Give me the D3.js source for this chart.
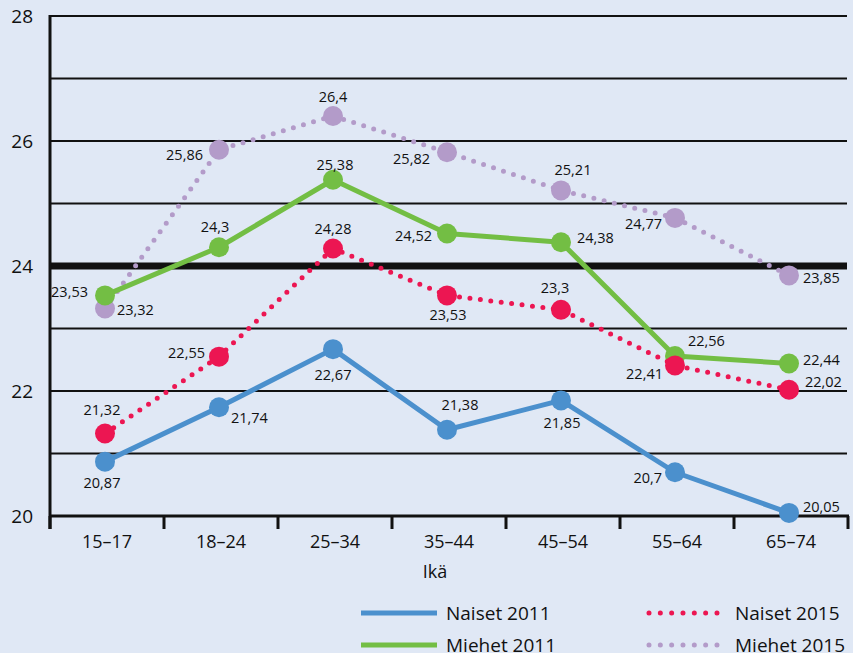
<!DOCTYPE html>
<meta charset="utf-8">
<style>
  body { margin: 0; background: #e0e8f5; }
  svg { display: block; font-family: "Open Sans", "Noto Sans", sans-serif; }
</style>
<div id="container"></div>
<script src="https://cdn.jsdelivr.net/npm/d3@7"></script>
<script>

// data
const ageGroups = ["15–17", "18–24", "25–34", "35–44", "45–54", "55–64", "65–74"];
const naiset2011 = [20.87, 21.74, 22.67, 21.38, 21.85, 20.7, 20.05];
const miehet2011 = [23.53, 24.3, 25.38, 24.52, 24.38, 22.56, 22.44];
const naiset2015 = [21.32, 22.55, 24.28, 23.53, 23.3, 22.41, 22.02];
const miehet2015 = [23.32, 25.86, 26.4, 25.82, 25.21, 24.77, 23.85];
const yTicks = [20, 22, 24, 26, 28];

// label placement per point: [dx, dy, anchor]
const labelPos = {
  n11: [[-3, 21, "middle"], [12, 11, "start"], [0, 26, "middle"], [13, -25, "middle"], [1, 23, "middle"], [-13, 6, "end"], [14, -6, "start"]],
  m11: [[-17, -3, "end"], [-4, -20, "middle"], [2, -15, "middle"], [-15, 2, "end"], [16, -4, "start"], [13, -15, "start"], [14, -4, "start"]],
  n15: [[-3, -24, "middle"], [-14, -4, "end"], [0, -20, "middle"], [1, 20, "middle"], [-6, -22, "middle"], [-12, 9, "end"], [16, -8, "start"]],
  m15: [[12, 1, "start"], [-16, 5, "end"], [0, -19, "middle"], [-17, 7, "end"], [12, -20, "middle"], [-13, 6, "end"], [14, 3, "start"]]
};

const series = [
  { key: "m15", name: "Miehet 2015", values: miehet2015, color: "#b39bc9", dotted: true },
  { key: "m11", name: "Miehet 2011", values: miehet2011, color: "#73be44", dotted: false },
  { key: "n15", name: "Naiset 2015", values: naiset2015, color: "#ec1652", dotted: true },
  { key: "n11", name: "Naiset 2011", values: naiset2011, color: "#4b90cd", dotted: false }
];

const W = 853, H = 653;
const plotL = 50, plotR = 848, plotT = 16, plotB = 516;

const svg = d3.select("#container").append("svg")
  .attr("width", W)
  .attr("height", H);

svg.append("rect").attr("width", W).attr("height", H).attr("fill", "#e0e8f5");

const x = d3.scaleBand().domain(ageGroups).range([plotL, plotR]);
const y = d3.scaleLinear().domain([20, 28]).range([plotB, plotT]);
const px = d => x(d) + x.bandwidth() / 2 - 2;

// grid lines every 1 unit
const gridVals = d3.range(21, 29);
svg.append("g").selectAll("line")
  .data(gridVals)
  .join("line")
  .attr("x1", plotL)
  .attr("x2", 847)
  .attr("y1", d => y(d))
  .attr("y2", d => y(d))
  .attr("stroke", "#111")
  .attr("stroke-width", d => d === 24 ? 7 : 2);

// y axis
svg.append("line")
  .attr("x1", plotL).attr("x2", plotL)
  .attr("y1", plotT - 1).attr("y2", plotB + 13)
  .attr("stroke", "#111").attr("stroke-width", 3);

svg.append("g").selectAll("text")
  .data(yTicks)
  .join("text")
  .attr("x", 33)
  .attr("y", d => y(d))
  .attr("dy", "0.35em")
  .attr("text-anchor", "end")
  .attr("font-size", 19)
  .attr("fill", "#111")
  .text(d => d);

// x axis
svg.append("line")
  .attr("x1", plotL - 1).attr("x2", plotR + 1)
  .attr("y1", plotB).attr("y2", plotB)
  .attr("stroke", "#111").attr("stroke-width", 3);

const bounds = ageGroups.map(d => x(d)).concat([plotR]);
svg.append("g").selectAll("line")
  .data(bounds)
  .join("line")
  .attr("x1", d => d).attr("x2", d => d)
  .attr("y1", plotB).attr("y2", plotB + 13)
  .attr("stroke", "#111").attr("stroke-width", 3);

svg.append("g").selectAll("text")
  .data(ageGroups)
  .join("text")
  .attr("x", d => x(d) + x.bandwidth() / 2)
  .attr("y", 542)
  .attr("dy", "0.35em")
  .attr("text-anchor", "middle")
  .attr("font-size", 18)
  .attr("fill", "#111")
  .text(d => d);

svg.append("text")
  .attr("x", 435).attr("y", 572).attr("dy", "0.35em")
  .attr("text-anchor", "middle")
  .attr("font-size", 18)
  .attr("fill", "#111")
  .text("Ikä");

// series
const line = d3.line().x((d, i) => px(ageGroups[i])).y(d => y(d));

series.forEach(s => {
  const g = svg.append("g");
  g.append("path")
    .datum(s.values)
    .attr("d", line)
    .attr("fill", "none")
    .attr("stroke", s.color)
    .attr("stroke-width", 5)
    .attr("stroke-linecap", "round")
    .attr("stroke-linejoin", "round")
    .attr("stroke-dasharray", s.dotted ? "0 10.5" : null);

  g.selectAll("circle")
    .data(s.values)
    .join("circle")
    .attr("cx", (d, i) => px(ageGroups[i]))
    .attr("cy", d => y(d))
    .attr("r", 10)
    .attr("fill", s.color);
});

series.forEach(s => {
  svg.append("g").selectAll("text")
    .data(s.values)
    .join("text")
    .attr("x", (d, i) => px(ageGroups[i]) + labelPos[s.key][i][0])
    .attr("y", (d, i) => y(d) + labelPos[s.key][i][1])
    .attr("dy", "0.35em")
    .attr("text-anchor", (d, i) => labelPos[s.key][i][2])
    .attr("font-size", 14.5)
    .attr("fill", "#111")
    .text(d => String(d).replace(".", ","));
});

// legend
const legendItems = [
  { s: series[3], lx: 361, ly: 613 },
  { s: series[1], lx: 361, ly: 645 },
  { s: series[2], lx: 649, ly: 613 },
  { s: series[0], lx: 649, ly: 645 }
];
const lg = svg.append("g");
legendItems.forEach(it => {
  if (it.s.dotted) {
    lg.append("line")
      .attr("x1", it.lx).attr("x2", it.lx + 68)
      .attr("y1", it.ly).attr("y2", it.ly)
      .attr("stroke", it.s.color)
      .attr("stroke-width", 5)
      .attr("stroke-linecap", "round")
      .attr("stroke-dasharray", "0 11.33");
  } else {
    lg.append("line")
      .attr("x1", it.lx).attr("x2", it.lx + 76)
      .attr("y1", it.ly).attr("y2", it.ly)
      .attr("stroke", it.s.color)
      .attr("stroke-width", 5);
  }
  lg.append("text")
    .attr("x", it.s.dotted ? 735 : 446)
    .attr("y", it.ly)
    .attr("dy", "0.35em")
    .attr("font-size", 19)
    .attr("fill", "#111")
    .text(it.s.name);
});

</script>
